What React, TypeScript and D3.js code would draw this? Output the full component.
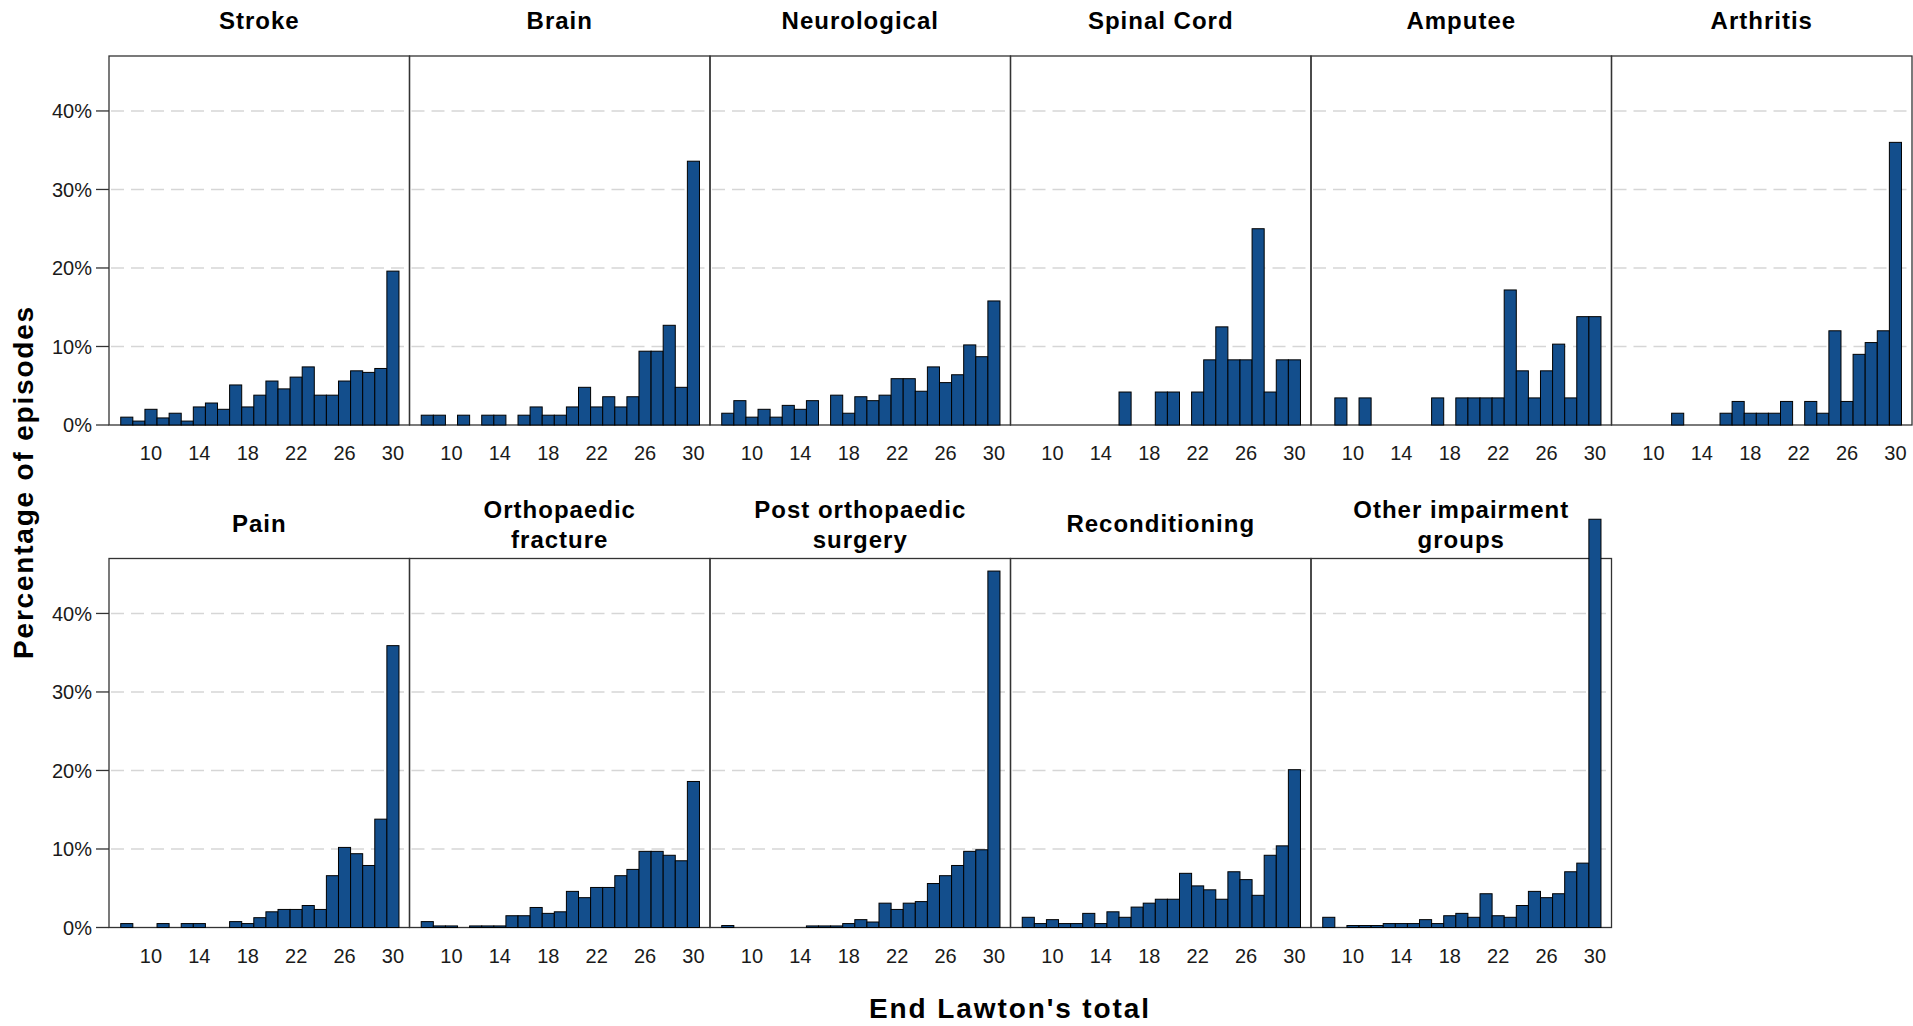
import React from 'react'
import * as d3 from 'd3'

// End Lawton's total scores (x categories)
const scores = [8, 9, 10, 11, 12, 13, 14, 15, 16, 17, 18, 19, 20, 21, 22, 23, 24, 25, 26, 27, 28, 29, 30]
const xTicks = [10, 14, 18, 22, 26, 30]
const yTicks = [0, 10, 20, 30, 40]

const groupTitles: string[][] = [
  ['Stroke'],
  ['Brain'],
  ['Neurological'],
  ['Spinal Cord'],
  ['Amputee'],
  ['Arthritis'],
  ['Pain'],
  ['Orthopaedic', 'fracture'],
  ['Post orthopaedic', 'surgery'],
  ['Reconditioning'],
  ['Other impairment', 'groups'],
]

// percentage of episodes per score, 8..30
const stroke = [1.0, 0.5, 2.0, 0.9, 1.5, 0.5, 2.3, 2.8, 2.0, 5.1, 2.3, 3.8, 5.6, 4.6, 6.1, 7.4, 3.8, 3.8, 5.6, 6.9, 6.7, 7.2, 19.6]
const brain = [1.25, 1.25, 0, 1.25, 0, 1.25, 1.25, 0, 1.25, 2.3, 1.25, 1.25, 2.3, 4.8, 2.3, 3.6, 2.3, 3.6, 9.4, 9.4, 12.7, 4.8, 33.6]
const neurological = [1.5, 3.1, 1.0, 2.0, 1.0, 2.5, 2.0, 3.1, 0, 3.8, 1.5, 3.6, 3.1, 3.8, 5.9, 5.9, 4.3, 7.4, 5.4, 6.4, 10.2, 8.7, 15.8]
const spinalCord = [0, 0, 0, 0, 0, 0, 0, 0, 4.2, 0, 0, 4.2, 4.2, 0, 4.2, 8.3, 12.5, 8.3, 8.3, 25.0, 4.2, 8.3, 8.3]
const amputee = [0, 3.45, 0, 3.45, 0, 0, 0, 0, 0, 3.45, 0, 3.45, 3.45, 3.45, 3.45, 17.2, 6.9, 3.45, 6.9, 10.3, 3.45, 13.8, 13.8]
const arthritis = [0, 0, 0, 0, 1.5, 0, 0, 0, 1.5, 3.0, 1.5, 1.5, 1.5, 3.0, 0, 3.0, 1.5, 12.0, 3.0, 9.0, 10.5, 12.0, 36.0]
const pain = [0.5, 0, 0, 0.5, 0, 0.5, 0.5, 0, 0, 0.75, 0.5, 1.25, 2.0, 2.3, 2.3, 2.8, 2.3, 6.6, 10.2, 9.4, 7.9, 13.8, 35.9]
const orthoFracture = [0.75, 0.2, 0.2, 0, 0.2, 0.2, 0.2, 1.5, 1.5, 2.55, 1.8, 2.0, 4.6, 3.8, 5.1, 5.1, 6.6, 7.4, 9.7, 9.7, 9.2, 8.5, 18.6]
const postOrthoSurgery = [0.25, 0, 0, 0, 0, 0, 0, 0.2, 0.2, 0.2, 0.5, 1.0, 0.7, 3.1, 2.3, 3.1, 3.3, 5.6, 6.6, 7.9, 9.7, 9.9, 45.4]
const reconditioning = [1.3, 0.5, 1.0, 0.5, 0.5, 1.8, 0.5, 2.0, 1.3, 2.6, 3.1, 3.6, 3.6, 6.9, 5.3, 4.8, 3.6, 7.1, 6.1, 4.1, 9.2, 10.4, 20.1]
const otherGroups = [1.3, 0, 0.25, 0.25, 0.25, 0.5, 0.5, 0.5, 1.0, 0.5, 1.5, 1.8, 1.3, 4.3, 1.5, 1.3, 2.8, 4.6, 3.8, 4.3, 7.1, 8.2, 52.0]

const groupValues = [
  stroke,
  brain,
  neurological,
  spinalCord,
  amputee,
  arthritis,
  pain,
  orthoFracture,
  postOrthoSurgery,
  reconditioning,
  otherGroups,
]

const W = 1913
const H = 1026
const plotLeft = 109
const colW = 300.5
const rowTops = [56, 558.5]
const plotH = 369
const barColor = '#134e8c'
const font = "'Liberation Sans', Arial, sans-serif"

export default function App() {
  const x = d3.scaleLinear().domain([6.53, 31.37]).range([0, colW])
  const y = d3.scaleLinear().domain([0, 47]).range([plotH, 0])
  const unit = x(1) - x(0)

  return (
    <svg
      width={W}
      height={H}
      style={{ position: 'absolute', left: 0, top: 0, background: '#fff' }}
      fontFamily={font}
    >
      {groupValues.map((vals, i) => {
        const row = i < 6 ? 0 : 1
        const col = i % 6
        const px = plotLeft + col * colW
        const py = rowTops[row]
        const title = groupTitles[i]
        return (
          <g key={i} transform={`translate(${px},${py})`}>
            {/* dashed gridlines */}
            {yTicks
              .filter((t) => t > 0)
              .map((t) => (
                <line
                  key={t}
                  x1={2}
                  x2={colW - 2}
                  y1={y(t)}
                  y2={y(t)}
                  stroke="#d6d6d6"
                  strokeWidth={1.5}
                  strokeDasharray="13 7"
                />
              ))}
            <rect x={0} y={0} width={colW} height={plotH} fill="none" stroke="#333" strokeWidth={1.3} />
            {/* y axis on first column */}
            {col === 0 &&
              yTicks.map((t) => (
                <g key={t} transform={`translate(0,${y(t)})`}>
                  <line x1={-13} x2={0} stroke="#333" strokeWidth={1.3} />
                  <text x={-17} dy="0.36em" textAnchor="end" fontSize={20} fill="#1a1a1a">
                    {`${t}%`}
                  </text>
                </g>
              ))}
            {/* bars */}
            {vals.map((v, j) =>
              v > 0 ? (
                <rect
                  key={j}
                  x={x(scores[j] - 0.5)}
                  y={y(v)}
                  width={unit}
                  height={plotH - y(v)}
                  fill={barColor}
                  stroke="#000"
                  strokeWidth={1}
                />
              ) : null,
            )}
            {/* x tick labels */}
            {xTicks.map((t) => (
              <text key={t} x={x(t)} y={plotH + 35} textAnchor="middle" fontSize={20} fill="#1a1a1a">
                {t}
              </text>
            ))}
            {/* panel title */}
            {title.length === 1 ? (
              <text x={colW / 2} y={-27} textAnchor="middle" fontSize={24} fontWeight="bold" letterSpacing={1}>
                {title[0]}
              </text>
            ) : (
              title.map((line, k) => (
                <text
                  key={k}
                  x={colW / 2}
                  y={-41 + k * 30}
                  textAnchor="middle"
                  fontSize={24}
                  fontWeight="bold"
                  letterSpacing={1}
                >
                  {line}
                </text>
              ))
            )}
          </g>
        )
      })}
      <text x={1010} y={1018} textAnchor="middle" fontSize={28} fontWeight="bold" letterSpacing={1.9}>
        End Lawton's total
      </text>
      <text
        transform="translate(33,482) rotate(-90)"
        textAnchor="middle"
        fontSize={28}
        fontWeight="bold"
        letterSpacing={1.8}
      >
        Percentage of episodes
      </text>
    </svg>
  )
}
